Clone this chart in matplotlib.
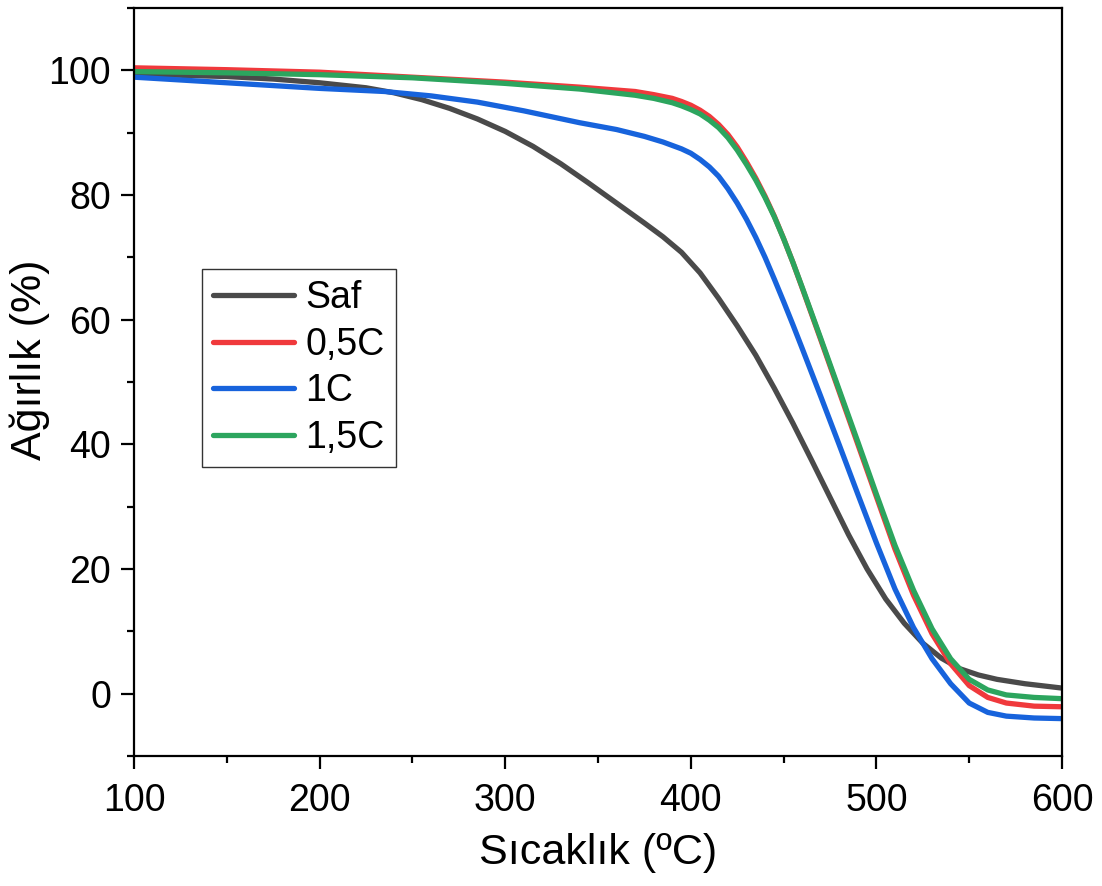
import matplotlib
matplotlib.use("Agg")
import matplotlib.pyplot as plt
from matplotlib.ticker import MultipleLocator

plt.rcParams['font.family'] = ['Liberation Sans', 'DejaVu Sans']

# * Data
# temperature (ºC) and weight (%) per sample
saf_t = [100, 125, 150, 175, 200, 225, 240, 255, 270, 285, 300, 315, 330, 345, 360, 375, 385, 395,
         405, 415, 425, 435, 445, 455, 465, 475, 485, 495, 505, 515, 525, 535, 545, 555, 565, 580, 600]
saf_w = [99.4, 99.2, 99.0, 98.6, 98.0, 97.2, 96.4, 95.3, 93.9, 92.2, 90.2, 87.8, 85.0, 81.9, 78.7, 75.5, 73.3, 70.8,
         67.5, 63.4, 59.0, 54.3, 49.0, 43.4, 37.5, 31.5, 25.5, 20.0, 15.2, 11.3, 8.1, 5.7, 4.0, 3.0, 2.3, 1.6, 0.9]

c05_t = [100, 150, 200, 250, 300, 340, 370, 380, 390, 395, 400, 405, 410, 415, 420, 425, 430, 435,
         440, 445, 450, 455, 460, 470, 480, 490, 500, 510, 520, 530, 540, 550, 560, 570, 585, 600]
c05_w = [100.4, 100.1, 99.7, 98.9, 98.1, 97.3, 96.6, 96.1, 95.5, 95.0, 94.4, 93.6, 92.6, 91.3, 89.7, 87.7, 85.3, 82.7,
         79.8, 76.6, 73.0, 69.2, 65.1, 56.8, 48.4, 40.0, 31.6, 23.2, 15.8, 9.6, 4.8, 1.3, -0.6, -1.5, -2.0, -2.1]

c1_t = [100, 150, 200, 235, 260, 285, 310, 340, 360, 375, 385, 395, 400, 405, 410, 415, 420, 425,
        430, 435, 440, 445, 450, 455, 460, 470, 480, 490, 500, 510, 520, 530, 540, 550, 560, 570, 585, 600]
c1_w = [98.9, 98.0, 97.1, 96.6, 95.9, 94.9, 93.5, 91.6, 90.5, 89.4, 88.5, 87.4, 86.7, 85.7, 84.5, 83.0, 81.0, 78.7,
        76.1, 73.2, 70.0, 66.5, 62.9, 59.2, 55.4, 47.7, 39.9, 32.0, 24.2, 16.8, 10.6, 5.6, 1.6, -1.5, -3.0, -3.6, -3.9, -4.0]

c15_t = [100, 150, 200, 250, 300, 340, 370, 380, 390, 395, 400, 405, 410, 415, 420, 425, 430, 435,
         440, 445, 450, 455, 460, 470, 480, 490, 500, 510, 520, 530, 540, 550, 560, 570, 585, 600]
c15_w = [99.8, 99.6, 99.3, 98.8, 97.9, 97.0, 96.0, 95.5, 94.8, 94.3, 93.7, 93.0, 92.0, 90.8, 89.2, 87.2, 84.9, 82.4,
         79.6, 76.5, 73.0, 69.2, 65.2, 57.0, 48.7, 40.4, 32.0, 23.8, 16.6, 10.4, 5.6, 2.3, 0.6, -0.2, -0.6, -0.8]

labels = ['Saf', '0,5C', '1C', '1,5C']
colors = ['#4A4A4A', '#F0393C', '#1763DC', '#2CA55E']

# * Plot
fig = plt.figure(figsize=(11.02, 8.86), dpi=100)
ax = fig.add_axes([0.1216, 0.1467, 0.8421, 0.8443])

for t, w, lab, col in zip([saf_t, c05_t, c1_t, c15_t], [saf_w, c05_w, c1_w, c15_w], labels, colors):
    ax.plot(t, w, color=col, lw=3.8, label=lab, solid_capstyle='round', solid_joinstyle='round')

ax.set_xlim(100, 600)
ax.set_ylim(-10, 110)
ax.xaxis.set_major_locator(MultipleLocator(100))
ax.xaxis.set_minor_locator(MultipleLocator(50))
ax.yaxis.set_minor_locator(MultipleLocator(10))
ax.set_yticks([0, 20, 40, 60, 80, 100])

for s in ax.spines.values():
    s.set_linewidth(1.6)
ax.tick_params(which='major', direction='out', length=9.5, width=1.6, labelsize=27, pad=7)
ax.tick_params(which='minor', direction='out', length=5, width=1.6)
ax.tick_params(axis='x', which='major', pad=10)

ax.set_xlabel('Sıcaklık (ºC)', fontsize=31, labelpad=10)
ax.set_ylabel('Ağırlık (%)', fontsize=31)
ax.yaxis.set_label_coords(-0.09, 0.53)

leg = ax.legend(loc='upper left', bbox_to_anchor=(0.0733, 0.651), fontsize=27,
                frameon=True, fancybox=False, edgecolor='#333333', framealpha=1,
                handlelength=2.15, handletextpad=0.3, labelspacing=0.28,
                borderpad=0.3, borderaxespad=0)
leg.get_frame().set_linewidth(1.0)

fig.savefig('out.png', dpi=100)
